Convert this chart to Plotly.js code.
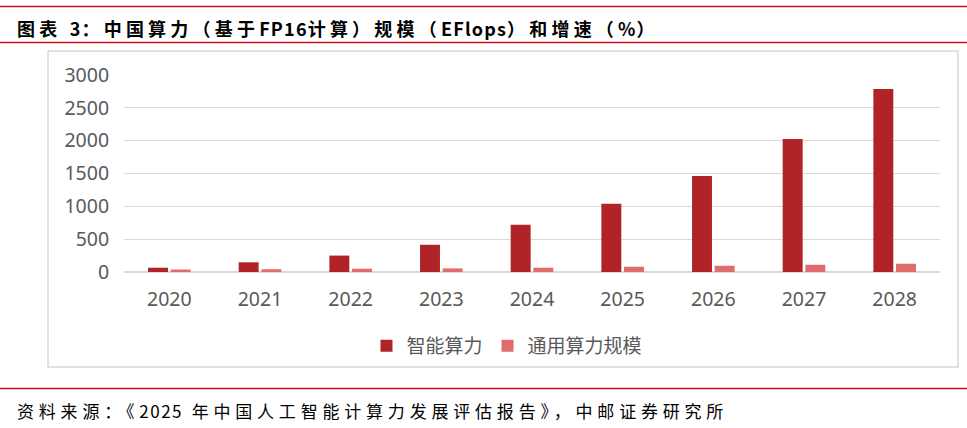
<!DOCTYPE html>
<html><head><meta charset="utf-8">
<script src="https://cdn.plot.ly/plotly-3.0.1.min.js"></script>
<style>html,body{margin:0;padding:0;background:#fff}#c{width:967px;height:428px}</style>
</head><body><div id="c"></div>
<script>
const years = ['2020','2021','2022','2023','2024','2025','2026','2027','2028'];
const intelligent = [65, 148, 250, 415, 720, 1038, 1463, 2026, 2785];
const general = [38, 42, 50, 55, 65, 80, 95, 110, 126];
const seriesNames = ['智能算力', '通用算力规模'];
const titleParts = [['图表 ',1],['3',0],['：中国算力（基于',1],['FP16',0],['计算）规模（',1],['EFlops',0],['）和增速（',1],['%',0],['）',1]];
const sourceParts = [['资料来源：《',1],['2025',0],[' 年中国人工智能计算力发展评估报告》，中邮证券研究所',1]];

const L=124, R=940, T=75, B=272;
const px = x => (x-L)/(R-L);
const py = y => (B-y)/(B-T);
const font = '"Noto Sans", "Noto Sans CJK SC", sans-serif';
const build = (parts, cjk, lat) => parts.map(p => '<span style="letter-spacing:'+(p[1]?cjk:lat)+'px">'+p[0]+'</span>').join('');

const data = [
  {type:'bar', x:years, y:intelligent, name:seriesNames[0], marker:{color:'#B02428'}},
  {type:'bar', x:years, y:general, name:seriesNames[1], marker:{color:'#E06C6C'}}
];
const red = '#C0141C';
const layout = {
  width:967, height:428,
  margin:{l:L, r:967-R, t:T, b:428-B},
  paper_bgcolor:'#fff', plot_bgcolor:'#fff',
  barmode:'group', bargap:0.5, bargroupgap:0.12,
  showlegend:true,
  legend:{orientation:'h', x:px(507), xanchor:'center', y:py(346), yanchor:'middle',
          font:{family:'"Noto Sans CJK SC", sans-serif', size:19, color:'#595959'},
          itemwidth:30, traceorder:'normal'},
  xaxis:{type:'category', showgrid:false, zeroline:false, showline:false,
         ticks:'outside', ticklen:10, tickcolor:'rgba(0,0,0,0)',
         tickfont:{family:font, size:19.5, color:'#595959'}, fixedrange:true},
  yaxis:{range:[0,3000], tickvals:[0,500,1000,1500,2000,2500,3000], ticktext:['0','500','1000','1500','2000','2500','3000'],
         showgrid:true, gridcolor:'#D9D9D9', gridwidth:1.3, zeroline:true, zerolinecolor:'#D9D9D9', zerolinewidth:1.3,
         showline:false, ticks:'outside', ticklen:10, tickcolor:'rgba(0,0,0,0)',
         tickfont:{family:font, size:19.5, color:'#595959'}, fixedrange:true},
  shapes:[
    {type:'rect', xref:'paper', yref:'paper', x0:px(48), x1:px(958), y0:py(51), y1:py(367), line:{color:'#D9D9D9', width:1.5}, fillcolor:'rgba(0,0,0,0)', layer:'below'},
    {type:'line', xref:'paper', yref:'paper', x0:px(0), x1:px(967), y0:py(6.5), y1:py(6.5), line:{color:red, width:1.5}},
    {type:'line', xref:'paper', yref:'paper', x0:px(0), x1:px(967), y0:py(42.5), y1:py(42.5), line:{color:red, width:1.5}},
    {type:'line', xref:'paper', yref:'paper', x0:px(0), x1:px(967), y0:py(388.5), y1:py(388.5), line:{color:red, width:1.5}}
  ],
  annotations:[
    {xref:'paper', yref:'paper', x:px(15), y:py(28), xanchor:'left', yanchor:'middle', showarrow:false,
     text:'<b>'+build(titleParts, 4.2, 1.2)+'</b>', font:{family:'"Noto Sans CJK SC", sans-serif', size:18, color:'#000'}},
    {xref:'paper', yref:'paper', x:px(15), y:py(410), xanchor:'left', yanchor:'middle', showarrow:false,
     text:build(sourceParts, 4.8, 1.5), font:{family:'"Noto Sans CJK SC", sans-serif', size:17, color:'#000'}}
  ]
};
Plotly.newPlot('c', data, layout, {displayModeBar:false, staticPlot:true});
</script></body></html>
